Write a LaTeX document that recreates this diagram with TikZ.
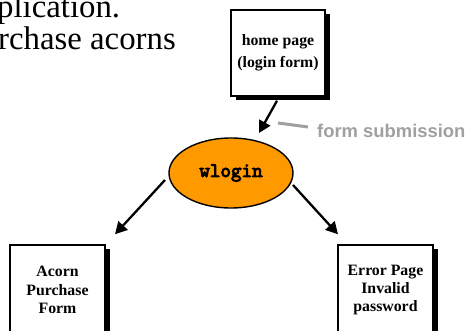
\documentclass[tikz,border=0pt]{standalone}
\usepackage{fontspec}
\setmainfont{Liberation Serif}
\newfontfamily\hvfont{Liberation Sans}
\usetikzlibrary{shapes.geometric,arrows.meta,calc,shadows}
\definecolor{wlorange}{RGB}{255,153,0}
\definecolor{notegray}{RGB}{160,160,160}
\newcommand{\heavytext}[1]{\special{pdf:code 2 Tr 0.9 w}#1\special{pdf:code 0 Tr}}
\begin{document}
\begin{tikzpicture}[x=1pt,y=-1pt,
  pagebox/.style={draw=black,line width=1.4pt,fill=white,rectangle,inner sep=0pt,
    align=center,font=\fontsize{15.8}{18.3}\selectfont\bfseries,
    drop shadow={shadow xshift=5pt,shadow yshift=-4.5pt,opacity=1,fill=black}},
  arr/.style={line width=2.3pt,-{Triangle[length=12pt,width=12.5pt]}},
  bigtext/.style={anchor=base west,inner sep=0pt,font=\fontsize{32.8}{36}\selectfont}]
\useasboundingbox (0,0) rectangle (467,331);
\node[bigtext] (t1) at (-3,18) {plication.};
\node[bigtext] (t2) at (-2,50) {rchase acorns};
\node[pagebox,minimum width=94pt,minimum height=86pt,
  font=\fontsize{15.8}{21.5}\selectfont\bfseries] (home) at (278,53) {home page\\(login form)};
\node[ellipse,draw=black,line width=1.4pt,fill=wlorange,minimum width=124pt,minimum height=70pt,inner sep=0pt,
  font=\fontsize{20.5}{22}\selectfont\ttfamily] (wl) at (231,173) {\heavytext{wlogin}};
\node[pagebox,minimum width=95pt,minimum height=90pt] (acorn) at (57.5,290) {Acorn\\Purchase\\Form};
\node[pagebox,minimum width=95pt,minimum height=90pt] (error) at (385.5,290) {Error Page\\Invalid\\password};
\draw[arr] ($(home.south)+(-1,4)$) -- ($(wl.center)+(28,-40)$);
\draw[arr] ($(wl.center)+(-66,7)$) -- ($(acorn.north)+(57.5,-10)$);
\draw[arr] ($(wl.center)+(62,12)$) -- ($(error.north)+(-47.5,-10)$);
\node[anchor=base west,inner sep=0pt,text=notegray,font=\fontsize{18.4}{20}\selectfont\hvfont\bfseries] (fs) at (317,138) {form submission};
\coordinate (g1) at (278,123);
\draw[notegray,line width=3pt] (g1) -- ($(fs.base west)+(-9,-11)$);
\end{tikzpicture}
\end{document}
